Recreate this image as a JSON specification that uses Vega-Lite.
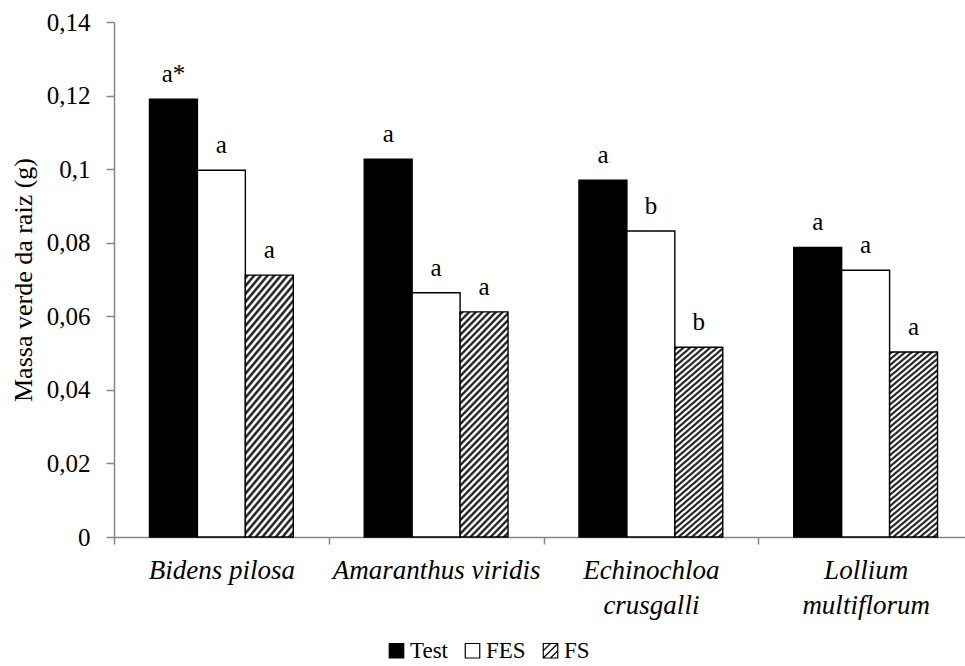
{
  "$schema": "https://vega.github.io/schema/vega-lite/v6.json",
  "autosize": {"type": "none"},
  "padding": {"left": 114, "top": 22, "right": 0, "bottom": 129},
  "width": 851,
  "height": 515,
  "background": "#ffffff",
  "config": {
    "view": {"stroke": null},
    "font": "Liberation Serif"
  },
  "data": {
    "values": [
      {"species": "Bidens pilosa", "trt": "Test", "value": 0.119, "sig": "a*"},
      {"species": "Bidens pilosa", "trt": "FES", "value": 0.0997, "sig": "a"},
      {"species": "Bidens pilosa", "trt": "FS", "value": 0.0712, "sig": "a"},
      {"species": "Amaranthus viridis", "trt": "Test", "value": 0.1027, "sig": "a"},
      {"species": "Amaranthus viridis", "trt": "FES", "value": 0.0664, "sig": "a"},
      {"species": "Amaranthus viridis", "trt": "FS", "value": 0.0612, "sig": "a"},
      {"species": "Echinochloa crusgalli", "trt": "Test", "value": 0.097, "sig": "a"},
      {"species": "Echinochloa crusgalli", "trt": "FES", "value": 0.0832, "sig": "b"},
      {"species": "Echinochloa crusgalli", "trt": "FS", "value": 0.0516, "sig": "b"},
      {"species": "Lollium multiflorum", "trt": "Test", "value": 0.0787, "sig": "a"},
      {"species": "Lollium multiflorum", "trt": "FES", "value": 0.0725, "sig": "a"},
      {"species": "Lollium multiflorum", "trt": "FS", "value": 0.0503, "sig": "a"}
    ]
  },
  "encoding": {
    "x": {
      "field": "species",
      "type": "nominal",
      "sort": null,
      "scale": {"range": [0, 859], "paddingInner": 0, "paddingOuter": 0},
      "axis": {
        "title": null,
        "labelAngle": 0,
        "tickBand": "extent",
        "tickSize": 7,
        "tickWidth": 1.5,
        "tickColor": "#868686",
        "domainColor": "#868686",
        "domainWidth": 1.5,
        "labelFont": "Liberation Serif",
        "labelFontStyle": "italic",
        "labelFontSize": 27,
        "labelLimit": 0,
        "labelColor": "#000000",
        "labelPadding": 13,
        "labelLineHeight": 35,
        "labelExpr": "indexof(['Echinochloa crusgalli','Lollium multiflorum'], datum.value) >= 0 ? split(datum.value, ' ') : datum.value"
      }
    },
    "xOffset": {
      "field": "trt",
      "type": "nominal",
      "sort": null,
      "scale": {"domain": ["Test", "FES", "FS"], "paddingInner": 0, "paddingOuter": 0.74}
    },
    "y": {
      "field": "value",
      "type": "quantitative",
      "scale": {"domain": [0, 0.14], "nice": false, "zero": true},
      "axis": {
        "title": "Massa verde da raiz (g)",
        "values": [0, 0.02, 0.04, 0.06, 0.08, 0.1, 0.12, 0.14],
        "labelExpr": "replace(format(datum.value, '.2~f'), '.', ',')",
        "grid": false,
        "tickSize": 8,
        "tickWidth": 1.5,
        "tickColor": "#868686",
        "domainColor": "#868686",
        "domainWidth": 1.5,
        "labelFont": "Liberation Serif",
        "labelFontSize": 25,
        "labelColor": "#000000",
        "labelPadding": 16,
        "titleFont": "Liberation Serif",
        "titleFontSize": 26,
        "titleFontWeight": "normal",
        "titleColor": "#000000",
        "titleX": -83,
        "titleBaseline": "alphabetic"
      }
    }
  },
  "layer": [
    {
      "mark": {"type": "bar", "stroke": "#000000", "strokeWidth": 1.4},
      "encoding": {
        "fill": {
          "field": "trt",
          "type": "nominal",
          "sort": null,
          "scale": {"domain": ["Test", "FES", "FS"], "range": ["#000000", "#ffffff", "#ffffff"]},
          "condition": {
            "test": "datum.trt === 'FS'",
            "value": {
              "gradient": "linear",
              "x1": 0, "y1": 0, "x2": 0.2537, "y2": 1.163,
              "stops": [
                {"offset": 0, "color": "#ffffff"}, {"offset": 0.00625, "color": "#262626"}, {"offset": 0.0125, "color": "#262626"}, {"offset": 0.01875, "color": "#ffffff"},
                {"offset": 0.025, "color": "#ffffff"}, {"offset": 0.03125, "color": "#262626"}, {"offset": 0.0375, "color": "#262626"}, {"offset": 0.04375, "color": "#ffffff"},
                {"offset": 0.05, "color": "#ffffff"}, {"offset": 0.05625, "color": "#262626"}, {"offset": 0.0625, "color": "#262626"}, {"offset": 0.06875, "color": "#ffffff"},
                {"offset": 0.075, "color": "#ffffff"}, {"offset": 0.08125, "color": "#262626"}, {"offset": 0.0875, "color": "#262626"}, {"offset": 0.09375, "color": "#ffffff"},
                {"offset": 0.1, "color": "#ffffff"}, {"offset": 0.10625, "color": "#262626"}, {"offset": 0.1125, "color": "#262626"}, {"offset": 0.11875, "color": "#ffffff"},
                {"offset": 0.125, "color": "#ffffff"}, {"offset": 0.13125, "color": "#262626"}, {"offset": 0.1375, "color": "#262626"}, {"offset": 0.14375, "color": "#ffffff"},
                {"offset": 0.15, "color": "#ffffff"}, {"offset": 0.15625, "color": "#262626"}, {"offset": 0.1625, "color": "#262626"}, {"offset": 0.16875, "color": "#ffffff"},
                {"offset": 0.175, "color": "#ffffff"}, {"offset": 0.18125, "color": "#262626"}, {"offset": 0.1875, "color": "#262626"}, {"offset": 0.19375, "color": "#ffffff"},
                {"offset": 0.2, "color": "#ffffff"}, {"offset": 0.20625, "color": "#262626"}, {"offset": 0.2125, "color": "#262626"}, {"offset": 0.21875, "color": "#ffffff"},
                {"offset": 0.225, "color": "#ffffff"}, {"offset": 0.23125, "color": "#262626"}, {"offset": 0.2375, "color": "#262626"}, {"offset": 0.24375, "color": "#ffffff"},
                {"offset": 0.25, "color": "#ffffff"}, {"offset": 0.25625, "color": "#262626"}, {"offset": 0.2625, "color": "#262626"}, {"offset": 0.26875, "color": "#ffffff"},
                {"offset": 0.275, "color": "#ffffff"}, {"offset": 0.28125, "color": "#262626"}, {"offset": 0.2875, "color": "#262626"}, {"offset": 0.29375, "color": "#ffffff"},
                {"offset": 0.3, "color": "#ffffff"}, {"offset": 0.30625, "color": "#262626"}, {"offset": 0.3125, "color": "#262626"}, {"offset": 0.31875, "color": "#ffffff"},
                {"offset": 0.325, "color": "#ffffff"}, {"offset": 0.33125, "color": "#262626"}, {"offset": 0.3375, "color": "#262626"}, {"offset": 0.34375, "color": "#ffffff"},
                {"offset": 0.35, "color": "#ffffff"}, {"offset": 0.35625, "color": "#262626"}, {"offset": 0.3625, "color": "#262626"}, {"offset": 0.36875, "color": "#ffffff"},
                {"offset": 0.375, "color": "#ffffff"}, {"offset": 0.38125, "color": "#262626"}, {"offset": 0.3875, "color": "#262626"}, {"offset": 0.39375, "color": "#ffffff"},
                {"offset": 0.4, "color": "#ffffff"}, {"offset": 0.40625, "color": "#262626"}, {"offset": 0.4125, "color": "#262626"}, {"offset": 0.41875, "color": "#ffffff"},
                {"offset": 0.425, "color": "#ffffff"}, {"offset": 0.43125, "color": "#262626"}, {"offset": 0.4375, "color": "#262626"}, {"offset": 0.44375, "color": "#ffffff"},
                {"offset": 0.45, "color": "#ffffff"}, {"offset": 0.45625, "color": "#262626"}, {"offset": 0.4625, "color": "#262626"}, {"offset": 0.46875, "color": "#ffffff"},
                {"offset": 0.475, "color": "#ffffff"}, {"offset": 0.48125, "color": "#262626"}, {"offset": 0.4875, "color": "#262626"}, {"offset": 0.49375, "color": "#ffffff"},
                {"offset": 0.5, "color": "#ffffff"}, {"offset": 0.50625, "color": "#262626"}, {"offset": 0.5125, "color": "#262626"}, {"offset": 0.51875, "color": "#ffffff"},
                {"offset": 0.525, "color": "#ffffff"}, {"offset": 0.53125, "color": "#262626"}, {"offset": 0.5375, "color": "#262626"}, {"offset": 0.54375, "color": "#ffffff"},
                {"offset": 0.55, "color": "#ffffff"}, {"offset": 0.55625, "color": "#262626"}, {"offset": 0.5625, "color": "#262626"}, {"offset": 0.56875, "color": "#ffffff"},
                {"offset": 0.575, "color": "#ffffff"}, {"offset": 0.58125, "color": "#262626"}, {"offset": 0.5875, "color": "#262626"}, {"offset": 0.59375, "color": "#ffffff"},
                {"offset": 0.6, "color": "#ffffff"}, {"offset": 0.60625, "color": "#262626"}, {"offset": 0.6125, "color": "#262626"}, {"offset": 0.61875, "color": "#ffffff"},
                {"offset": 0.625, "color": "#ffffff"}, {"offset": 0.63125, "color": "#262626"}, {"offset": 0.6375, "color": "#262626"}, {"offset": 0.64375, "color": "#ffffff"},
                {"offset": 0.65, "color": "#ffffff"}, {"offset": 0.65625, "color": "#262626"}, {"offset": 0.6625, "color": "#262626"}, {"offset": 0.66875, "color": "#ffffff"},
                {"offset": 0.675, "color": "#ffffff"}, {"offset": 0.68125, "color": "#262626"}, {"offset": 0.6875, "color": "#262626"}, {"offset": 0.69375, "color": "#ffffff"},
                {"offset": 0.7, "color": "#ffffff"}, {"offset": 0.70625, "color": "#262626"}, {"offset": 0.7125, "color": "#262626"}, {"offset": 0.71875, "color": "#ffffff"},
                {"offset": 0.725, "color": "#ffffff"}, {"offset": 0.73125, "color": "#262626"}, {"offset": 0.7375, "color": "#262626"}, {"offset": 0.74375, "color": "#ffffff"},
                {"offset": 0.75, "color": "#ffffff"}, {"offset": 0.75625, "color": "#262626"}, {"offset": 0.7625, "color": "#262626"}, {"offset": 0.76875, "color": "#ffffff"},
                {"offset": 0.775, "color": "#ffffff"}, {"offset": 0.78125, "color": "#262626"}, {"offset": 0.7875, "color": "#262626"}, {"offset": 0.79375, "color": "#ffffff"},
                {"offset": 0.8, "color": "#ffffff"}, {"offset": 0.80625, "color": "#262626"}, {"offset": 0.8125, "color": "#262626"}, {"offset": 0.81875, "color": "#ffffff"},
                {"offset": 0.825, "color": "#ffffff"}, {"offset": 0.83125, "color": "#262626"}, {"offset": 0.8375, "color": "#262626"}, {"offset": 0.84375, "color": "#ffffff"},
                {"offset": 0.85, "color": "#ffffff"}, {"offset": 0.85625, "color": "#262626"}, {"offset": 0.8625, "color": "#262626"}, {"offset": 0.86875, "color": "#ffffff"},
                {"offset": 0.875, "color": "#ffffff"}, {"offset": 0.88125, "color": "#262626"}, {"offset": 0.8875, "color": "#262626"}, {"offset": 0.89375, "color": "#ffffff"},
                {"offset": 0.9, "color": "#ffffff"}, {"offset": 0.90625, "color": "#262626"}, {"offset": 0.9125, "color": "#262626"}, {"offset": 0.91875, "color": "#ffffff"},
                {"offset": 0.925, "color": "#ffffff"}, {"offset": 0.93125, "color": "#262626"}, {"offset": 0.9375, "color": "#262626"}, {"offset": 0.94375, "color": "#ffffff"},
                {"offset": 0.95, "color": "#ffffff"}, {"offset": 0.95625, "color": "#262626"}, {"offset": 0.9625, "color": "#262626"}, {"offset": 0.96875, "color": "#ffffff"},
                {"offset": 0.975, "color": "#ffffff"}, {"offset": 0.98125, "color": "#262626"}, {"offset": 0.9875, "color": "#262626"}, {"offset": 0.99375, "color": "#ffffff"},
                {"offset": 1, "color": "#ffffff"}
              ]
            }
          },
          "legend": {
            "title": null,
            "orient": "none",
            "direction": "horizontal",
            "legendX": 271,
            "legendY": 617,
            "symbolType": "square",
            "symbolSize": 210,
            "symbolStrokeColor": "#000000",
            "symbolStrokeWidth": 1.2,
            "symbolOpacity": 1,
            "labelFont": "Liberation Serif",
            "labelFontSize": 23,
            "labelColor": "#000000",
            "labelOffset": 2,
            "columnPadding": 13,
            "encode": {
              "symbols": {
                "update": {
                  "stroke": {"value": "#000000"},
                  "strokeWidth": {"value": 1.2},
                  "opacity": {"value": 1},
                  "shape": [
                    {"test": "datum.value === 'FS'", "value": "M-1,-1H1V1H-1Z M-1,0L0,-1 M-1,1L1,-1 M0,1L1,0"},
                    {"value": "square"}
                  ]
                }
              }
            }
          }
        }
      }
    },
    {
      "mark": {
        "type": "text",
        "font": "Liberation Serif",
        "fontSize": 25,
        "color": "#000000",
        "baseline": "alphabetic",
        "align": "center",
        "dy": -17
      },
      "encoding": {
        "text": {"field": "sig", "type": "nominal"}
      }
    }
  ]
}
